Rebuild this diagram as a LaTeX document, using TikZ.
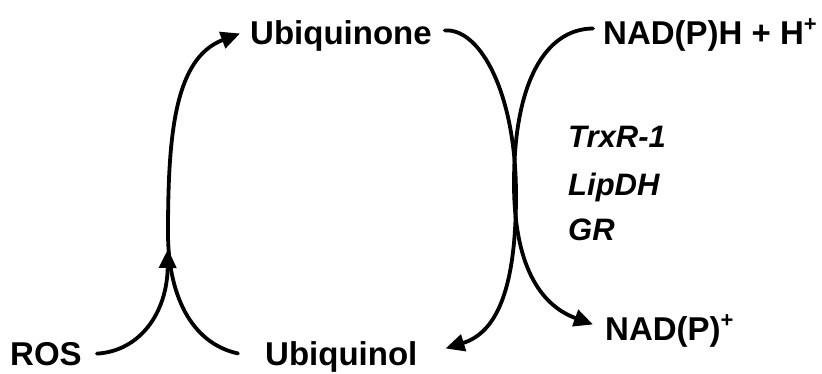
\documentclass[tikz,border=0pt]{standalone}
\usepackage{fontspec}
\setmainfont{Liberation Sans}
\usetikzlibrary{arrows.meta}
\newcommand{\supplus}{\raisebox{13pt}{\fontsize{22}{22}\selectfont +}}
\begin{document}
\begin{tikzpicture}[x=1pt,y=1pt,
  lbl/.style={inner sep=0pt, anchor=base west, font=\fontsize{33}{40}\selectfont\bfseries},
  enz/.style={inner sep=0pt, anchor=base west, font=\fontsize{31}{38}\selectfont\bfseries\itshape},
  flow/.style={line width=3.8pt, line cap=round},
  tip/.style={-{Triangle[length=19pt,width=17pt]}}]
\useasboundingbox (0,0) rectangle (822,373);

% labels
\node[lbl] (ubiquinone) at (250,328) {Ubiquinone};
\node[lbl] (nadph) at (603,328) {NAD(P)H + H\supplus};
\node[lbl] (ros) at (10,8) {ROS};
\node[lbl] (ubiquinol) at (265,8) {Ubiquinol};
\node[lbl] (nadp) at (605,33) {NAD(P)\supplus};
\node[enz] (trxr) at (568,226) {TrxR-1};
\node[enz] (lipdh) at (568,178) {LipDH};
\node[enz] (gr) at (568,133) {GR};

% oxidation of ubiquinol back to ubiquinone
\draw[flow,tip] ([shift={(-27pt,3pt)}]ubiquinol.west)
  .. controls (190,30) and (168,80) .. (168,140)
  .. controls (168,240) and (175,315) .. ([shift={(-10pt,3pt)}]ubiquinone.west);

% ROS entering the cycle
\coordinate (join) at (168,124);
\draw[flow,tip] ([xshift=15pt]ros.east)
  .. controls (140,22) and (167,60) .. (join);

% reduction of ubiquinone to ubiquinol
\draw[flow,tip] ([shift={(13pt,6pt)}]ubiquinone.east)
  .. controls (480,345) and (516,280) .. (516,178)
  .. controls (516,80) and (495,40) .. ([shift={(28pt,8pt)}]ubiquinol.east);

% NAD(P)H oxidised to NAD(P)+
\draw[flow,tip] ([shift={(-10pt,7pt)}]nadph.west)
  .. controls (545,344) and (514,290) .. (514,190)
  .. controls (514,100) and (545,66) .. ([shift={(-12pt,6pt)}]nadp.west);
\end{tikzpicture}
\end{document}
